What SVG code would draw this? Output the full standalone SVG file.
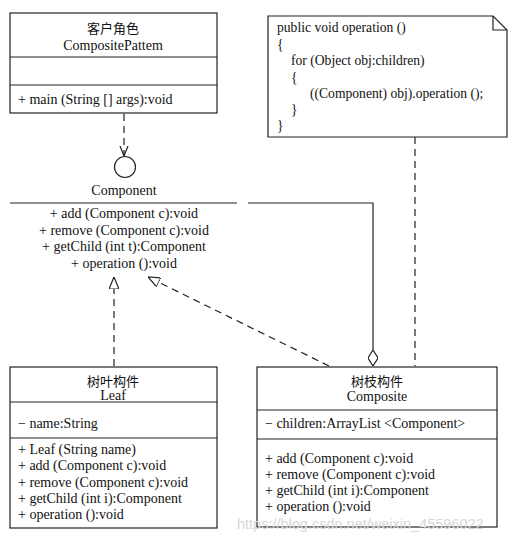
<svg xmlns="http://www.w3.org/2000/svg" width="519" height="540" viewBox="0 0 519 540">
<style>
text{font-family:"Liberation Serif","Noto Sans CJK SC",serif;font-size:14px;fill:#111}
.c{text-anchor:middle}
.cjk{font-size:13px}
.note{font-size:13.6px}
.box{fill:#fff;stroke:#222;stroke-width:1.2}
.ln{fill:none;stroke:#222;stroke-width:1.2}
.dash{fill:none;stroke:#222;stroke-width:1.2;stroke-dasharray:7,5}
.wm{font-family:"Liberation Sans",sans-serif;font-size:14.5px;fill:#d8d8d8}
</style>
<defs>
<marker id="tri" viewBox="0 0 12 10" refX="12" refY="5" markerWidth="12" markerHeight="10" markerUnits="userSpaceOnUse" orient="auto">
<path d="M0,0 L12,5 L0,10 Z" fill="#fff" stroke="#222" stroke-width="1.2"/>
</marker>
<marker id="vee" viewBox="0 0 10 10" refX="10" refY="5" markerWidth="10" markerHeight="10" markerUnits="userSpaceOnUse" orient="auto">
<path d="M0,1 L10,5 L0,9" fill="none" stroke="#222" stroke-width="1.2"/>
</marker>
<marker id="dia" viewBox="0 0 16 10" refX="16" refY="5" markerWidth="16" markerHeight="10" markerUnits="userSpaceOnUse" orient="auto">
<path d="M0,5 L8,0 L16,5 L8,10 Z" fill="#fff" stroke="#222" stroke-width="1.2"/>
</marker>
</defs>

<g id="connectors">
<line class="dash" x1="124" y1="114" x2="124" y2="156" marker-end="url(#vee)"/>
<line class="dash" x1="114" y1="366" x2="114" y2="277" marker-end="url(#tri)"/>
<line class="dash" x1="329" y1="366" x2="148" y2="277" marker-end="url(#tri)"/>
<polyline class="ln" points="248,203 373,203 373,366" marker-end="url(#dia)"/>
<line class="dash" x1="415" y1="137" x2="415" y2="366"/>
</g>

<g id="client">
<rect class="box" x="10" y="13" width="207" height="100"/>
<line class="ln" x1="10" y1="57" x2="217" y2="57"/>
<line class="ln" x1="10" y1="85" x2="217" y2="85"/>
<text class="c cjk" x="113" y="33">客户角色</text>
<text class="c" x="113" y="50">CompositePattem</text>
<text x="18" y="104">+ main (String [] args):void</text>
</g>

<g id="component">
<circle cx="125" cy="167" r="10.5" fill="#fff" stroke="#222" stroke-width="1.2"/>
<text class="c" x="124" y="195">Component</text>
<line class="ln" x1="10" y1="203" x2="237" y2="203"/>
<text class="c" x="124" y="218">+ add (Component c):void</text>
<text class="c" x="124" y="235">+ remove (Component c):void</text>
<text class="c" x="124" y="251">+ getChild (int t):Component</text>
<text class="c" x="124" y="268">+ operation ():void</text>
</g>

<g id="note">
<path class="box" d="M268,16 L493,16 L507,30 L507,137 L268,137 Z"/>
<path class="ln" d="M493,16 L493,30 L507,30"/>
<text class="note" x="277" y="32">public void operation ()</text>
<text class="note" x="277" y="49">{</text>
<text class="note" x="291" y="65">for (Object obj:children)</text>
<text class="note" x="291" y="82">{</text>
<text class="note" x="310" y="98">((Component) obj).operation ();</text>
<text class="note" x="291" y="114">}</text>
<text class="note" x="277" y="130">}</text>
</g>

<g id="leaf">
<rect class="box" x="10" y="367" width="207" height="161"/>
<line class="ln" x1="10" y1="402" x2="217" y2="402"/>
<line class="ln" x1="10" y1="438" x2="217" y2="438"/>
<text class="c cjk" x="113" y="386">树叶构件</text>
<text class="c" x="113" y="400">Leaf</text>
<text x="18" y="428">− name:String</text>
<text x="18" y="454">+ Leaf (String name)</text>
<text x="18" y="470">+ add (Component c):void</text>
<text x="18" y="487">+ remove (Component c):void</text>
<text x="18" y="503">+ getChild (int i):Component</text>
<text x="18" y="519">+ operation ():void</text>
</g>

<g id="composite">
<rect class="box" x="257" y="367" width="240" height="160"/>
<line class="ln" x1="257" y1="410" x2="497" y2="410"/>
<line class="ln" x1="257" y1="439" x2="497" y2="439"/>
<text class="c cjk" x="377" y="386">树枝构件</text>
<text class="c" x="377" y="401">Composite</text>
<text x="265" y="428">− children:ArrayList &lt;Component&gt;</text>
<text x="265" y="463">+ add (Component c):void</text>
<text x="265" y="479">+ remove (Component c):void</text>
<text x="265" y="495">+ getChild (int i):Component</text>
<text x="265" y="511">+ operation ():void</text>
</g>

<text class="wm" x="237" y="529">https://blog.csdn.net/weixin_45596022</text>
</svg>
